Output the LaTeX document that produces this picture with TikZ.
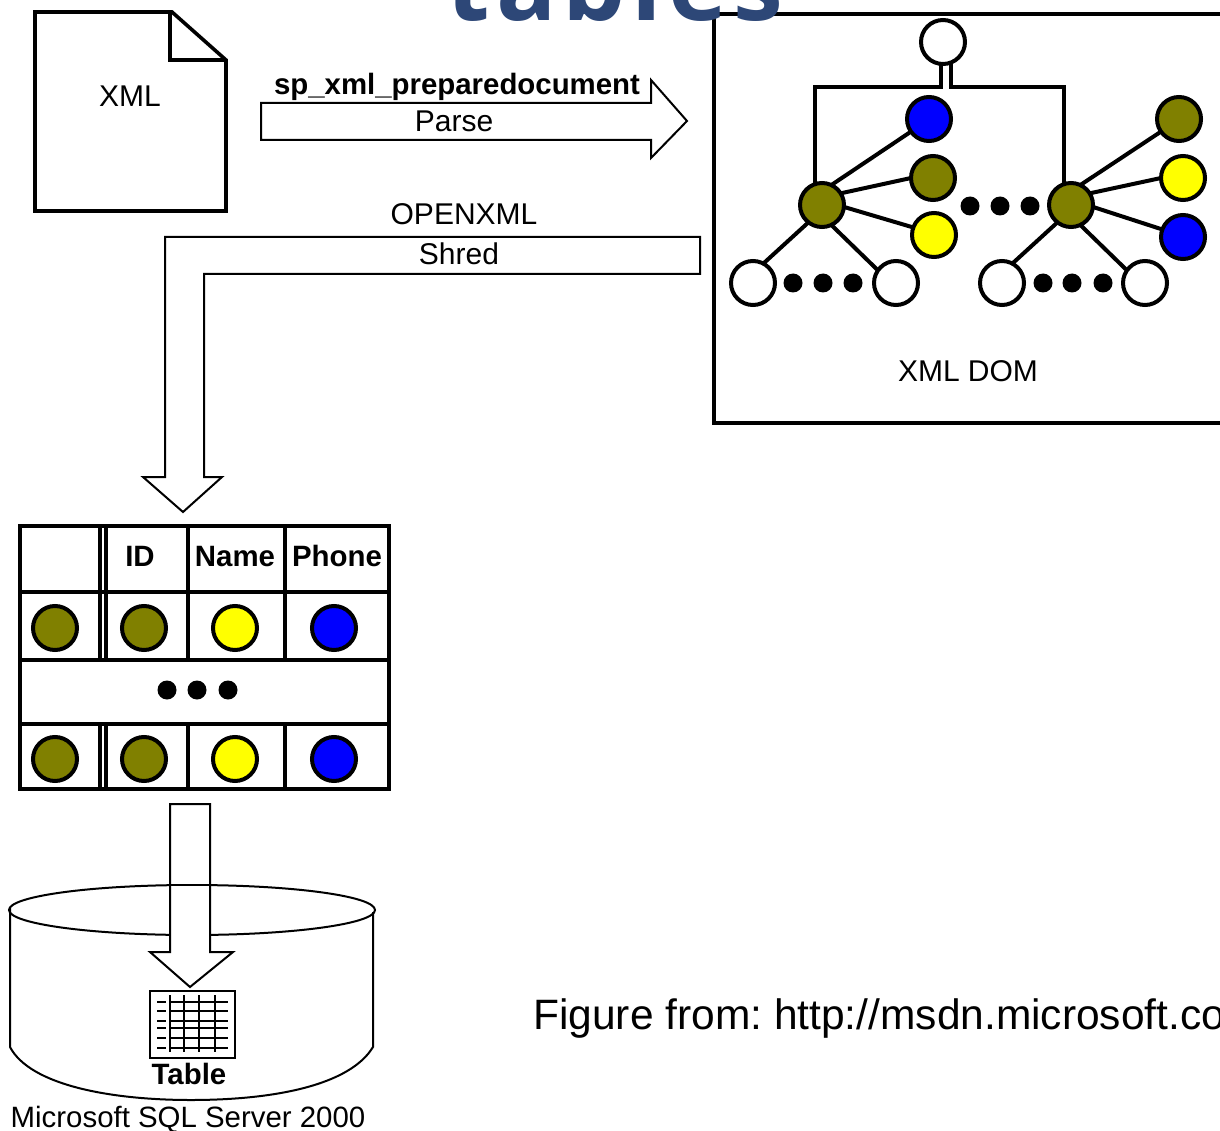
\documentclass[tikz,border=0pt]{standalone}
\usepackage{fontspec}
\setmainfont{Liberation Sans}
\newfontfamily\titlefont[LetterSpace=6]{Open Sans}
\definecolor{olv}{HTML}{808000}
\definecolor{blu}{HTML}{0000FF}
\definecolor{yel}{HTML}{FFFF00}
\definecolor{ttl}{HTML}{2D4777}
\tikzset{
  dot/.style={circle,draw=black,line width=4pt,minimum size=44pt,inner sep=0pt,outer sep=0pt},
  wn/.style={dot,fill=white},
  ol/.style={dot,fill=olv},
  bl/.style={dot,fill=blu},
  yl/.style={dot,fill=yel},
  ell/.style={circle,fill=black,minimum size=19pt,inner sep=0pt,outer sep=0pt},
  frame/.style={draw=black,line width=3.6pt,line join=miter},
  thin box/.style={draw=black,line width=2pt,fill=white,line join=miter},
  edge/.style={draw=black,line width=4pt},
  lab/.style={anchor=base,inner sep=0pt,font=\fontsize{30}{30}\selectfont},
  blab/.style={anchor=base,inner sep=0pt,font=\fontsize{29.4}{30}\selectfont\bfseries}
}
\begin{document}
\begin{tikzpicture}[x=1pt,y=-1pt]
\frenchspacing
\useasboundingbox (0,0) rectangle (1220,1131);
\clip (0,0) rectangle (1220,1131);
\fill[white] (0,0) rectangle (1220,1131);

% XML document
\draw[frame] (35,12) -- (172,12) -- (226,60) -- (226,211) -- (35,211) -- cycle;
\draw[frame] (170,12) -- (170,60) -- (226,60);
\node[lab] (xml) at (130,107) {XML};

% Parse arrow
\draw[thin box] (261,103) -- (651,103) -- (651,80) -- (687,121) -- (651,158) -- (651,140) -- (261,140) -- cycle;
\node[blab] (prep) at (457,95) {sp\_xml\_preparedocument};
\node[lab] (parse) at (454,132) {Parse};

% Shred arrow
\draw[thin box] (700,237) -- (165,237) -- (165,477) -- (143,477) -- (183,512) -- (222,477) -- (204,477) -- (204,274) -- (700,274) -- cycle;
\node[lab] (openxml) at (464,225) {OPENXML};
\node[lab] (shred) at (459,265) {Shred};

% XML DOM box
\draw[frame] (1230,14) -- (714,14) -- (714,423) -- (1230,423);
\node[lab] (domlab) at (968,381) {XML DOM};

\node[wn] (root) at (943,42) {};
\node[ol] (hl) at (822,205) {};
\node[ol] (hr) at (1071,205) {};
\node[bl] (l1) at (929,119) {};
\node[ol] (l2) at (933,178) {};
\node[yl] (l3) at (934,235) {};
\node[ol] (r1) at (1179,119) {};
\node[yl] (r2) at (1183,178) {};
\node[bl] (r3) at (1183,237) {};
\node[wn] (a1) at (753,283) {};
\node[wn] (a2) at (896,283) {};
\node[wn] (b1) at (1002,283) {};
\node[wn] (b2) at (1145,283) {};
\draw[line width=3.6pt,line join=miter] (root.south -| 941,0) -- (941,87) -- (815,87) -- (815,0 |- hl.north);
\draw[line width=3.6pt,line join=miter] (root.south -| 951,0) -- (951,87) -- (1064,87) -- (1064,0 |- hr.north);
\foreach \p/\c in {hl/l,hr/r} {
  \draw[edge] (\p.65) -- (\c1.215);
  \draw[edge] (\p.32) -- (\c2.180);
  \draw[edge] (\p.-5) -- (\c3.160);
}
\foreach \p/\c in {hl/a,hr/b} {
  \draw[edge] (\p.232) -- (\c1.62);
  \draw[edge] (\p.-65) -- (\c2.145);
}
\foreach \n/\x/\y in {e1/970/206,e2/1000/206,e3/1030/206,e4/793/283,e5/823/283,e6/853/283,e7/1043/283,e8/1072/283,e9/1103/283}
  \node[ell] (\n) at (\x,\y) {};

% Result table
\draw[frame,fill=white] (20,526) rectangle (389,789);
\draw[frame] (20,592) -- (389,592) (20,660) -- (389,660) (20,724) -- (389,724);
\foreach \x in {100,106,188,285} {
  \draw[frame] (\x,526) -- (\x,660);
  \draw[frame] (\x,724) -- (\x,789);
}
\node[blab] (cid) at (140,566) {ID};
\node[blab] (cname) at (235,566) {Name};
\node[blab] (cphone) at (337,566) {Phone};
\foreach \y/\k in {628/p,759/q} {
  \node[ol] (\k1) at (55,\y) {};
  \node[ol] (\k2) at (144,\y) {};
  \node[yl] (\k3) at (235,\y) {};
  \node[bl] (\k4) at (334,\y) {};
}
\foreach \n/\x in {t1/167,t2/197,t3/228}
  \node[ell] (\n) at (\x,690) {};

% Cylinder
\draw[line width=2pt] (10,908) -- (10,1047) .. controls (30,1085) and (110,1100) .. (191,1100) .. controls (275,1100) and (350,1085) .. (373,1047) -- (373,912);
\draw[line width=2pt] (192,910) ellipse [x radius=183,y radius=25];
% Down arrow
\draw[thin box] (170,804) -- (210,804) -- (210,952) -- (233,952) -- (190,987) -- (150,952) -- (170,952) -- cycle;
\draw[line width=2pt] (170,885) -- (210,885);

% Table icon
\draw[line width=2.2pt] (150,991) rectangle (235,1058);
\foreach \y in {1002,1011,1021,1028,1038,1048} {
  \draw[line width=2.2pt] (157,\y) -- (166,\y);
  \draw[line width=2.2pt] (170,\y) -- (228,\y);
}
\foreach \x in {170,184,199,215} \draw[line width=2.2pt] (\x,995) -- (\x,1052);
\node[blab] (tbl) at (189,1084) {Table};
\node[lab,font=\fontsize{29.4}{30}\selectfont] (mss) at (188,1127) {Microsoft SQL Server 2000};

% Caption and title
\node[anchor=base west,inner sep=0pt,font=\fontsize{42.5}{42}\selectfont] (fig) at (533,1029) {Figure from: http://msdn.microsoft.com};
\node[anchor=base,inner sep=0pt,text=ttl,font=\fontsize{100}{100}\selectfont\titlefont\bfseries] (title) at (615,21) {tables};
\end{tikzpicture}
\end{document}
